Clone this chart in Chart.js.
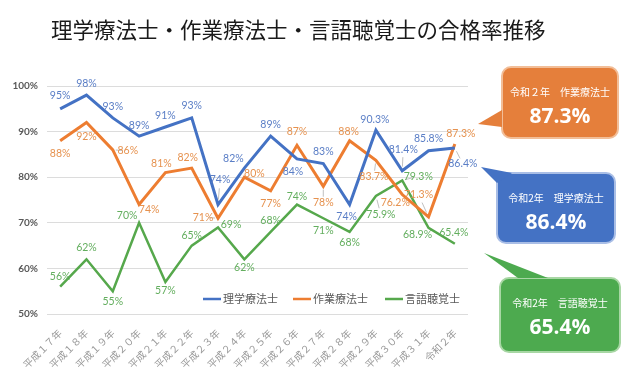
<!DOCTYPE html>
<html>
<head>
<meta charset="utf-8">
<script src="https://cdn.jsdelivr.net/npm/chart.js@4/dist/chart.umd.min.js"></script>
<style>
html,body{margin:0;padding:0;background:#fff;}
#wrap{width:640px;height:382px;position:relative;}
</style>
</head>
<body>
<div id="wrap"><canvas id="c" width="640" height="382"></canvas></div>
<script>
// 合格率推移
const YEARS = ['平成１７年','平成１８年','平成１９年','平成２０年','平成２１年','平成２２年','平成２３年','平成２４年','平成２５年','平成２６年','平成２７年','平成２８年','平成２９年','平成３０年','平成３１年','令和２年'];
const PT = [95, 98, 93, 89, 91, 93, 74, 82, 89, 84, 83, 74, 90.3, 81.4, 85.8, 86.4];
const OT = [88, 92, 86, 74, 81, 82, 71, 80, 77, 87, 78, 88, 83.7, 76.2, 71.3, 87.3];
const ST = [56, 62, 55, 70, 57, 65, 69, 62, 68, 74, 71, 68, 75.9, 79.3, 68.9, 65.4];
const SERIES = ['理学療法士','作業療法士','言語聴覚士'];
const Y_TICKS = [50, 60, 70, 80, 90, 100];

const COL = {pt:'#4472C4', ot:'#ED7D31', st:'#56A84C'};
const LBL = {pt:'#5A7EC6', ot:'#E6924F', st:'#63AE5E'};

// label offsets from each point (px)
const PT_OFF = [[0,-13],[0,-12],[0,-11],[0,-11],[0,-11],[0,-12],[2,-25],[-11,-9],[0,-12],[-4,13],[0,-12],[-3,12],[-1,-11],[1,-21],[0,-12],[8,16]];
const OT_OFF = [[0,13],[0,14],[15,1],[10,5],[-4,-9],[-4,-10],[-15,-1],[10,-4],[0,13],[0,-14],[0,16],[-1,-9],[-2,16],[-7,8],[-10,-22],[6,-10]];
const ST_OFF = [[0,-10],[0,-12],[0,10],[-12,-7],[0,9],[0,-10],[13,-3],[0,8],[0,-11],[0,-8],[0,12],[0,11],[5,19],[16,-4],[-11,7],[-1,-11]];

const JP = '"Noto Sans CJK JP", sans-serif';
const LAT = 'Lato, "Noto Sans", sans-serif';

function fmtPct(v){ return (Number.isInteger(v) ? v : v.toFixed(1)) + '%'; }

const deco = {
  id:'deco',
  afterDatasetsDraw(chart){
    const ctx = chart.ctx;
    // data labels
    const offs = [PT_OFF, OT_OFF, ST_OFF];
    const lc = [LBL.pt, LBL.ot, LBL.st];
    ctx.save();
    ctx.font = '10.5px ' + LAT;
    ctx.textAlign = 'center'; ctx.textBaseline = 'middle';
    chart.data.datasets.forEach((ds, di) => {
      const meta = chart.getDatasetMeta(di);
      meta.data.forEach((pt, i) => {
        const [dx, dy] = offs[di][i];
        const lx = pt.x + dx, ly = pt.y + dy;
        if (Math.hypot(dx, dy) > 15) {
          ctx.strokeStyle = '#b0b0b0'; ctx.lineWidth = 0.8;
          ctx.beginPath();
          ctx.moveTo(pt.x + dx*0.2, pt.y + dy*0.2);
          ctx.lineTo(pt.x + dx*0.65, pt.y + dy*0.65);
          ctx.stroke();
        }
        ctx.fillStyle = lc[di];
        ctx.fillText(fmtPct(ds.data[i]), lx, ly);
      });
    });
    ctx.restore();
  },
  afterDraw(chart){
    const ctx = chart.ctx;
    ctx.save();
    // title
    ctx.fillStyle = '#1a1a1a';
    ctx.font = '21.5px ' + JP;
    ctx.textAlign = 'left'; ctx.textBaseline = 'middle';
    ctx.fillText('理学療法士・作業療法士・言語聴覚士の合格率推移', 51, 30);

    // legend inside plot
    const legX = [203, 293, 385];
    const cols = [COL.pt, COL.ot, COL.st];
    ctx.font = '11px ' + JP;
    SERIES.forEach((s, i) => {
      ctx.strokeStyle = cols[i]; ctx.lineWidth = 2.5;
      ctx.beginPath(); ctx.moveTo(legX[i], 299); ctx.lineTo(legX[i] + 18, 299); ctx.stroke();
      ctx.fillStyle = '#595959';
      ctx.fillText(s, legX[i] + 20, 299);
    });

    // callouts
    const n = YEARS.length - 1;
    const boxes = [
      {c:'#E57F3B', b:'#F2BE98', x:502, y:67, w:116, h:71, tail:[[502,110],[478,124],[502,127]], t1:'令和２年　作業療法士', v:OT[n]},
      {c:'#4472C4', b:'#A9BEE6', x:497, y:173, w:118, h:70, tail:[[497,183],[481,167],[512,173]], t1:'令和2年　理学療法士', v:PT[n]},
      {c:'#4DAA4F', b:'#A8D7A4', x:500, y:278, w:120, h:74, tail:[[518,278],[484,253],[548,278]], t1:'令和2年　言語聴覚士', v:ST[n]},
    ];
    boxes.forEach(bx => {
      ctx.fillStyle = bx.c; ctx.strokeStyle = bx.b; ctx.lineWidth = 2;
      ctx.beginPath();
      ctx.roundRect(bx.x, bx.y, bx.w, bx.h, 9);
      ctx.fill(); ctx.stroke();
      ctx.beginPath();
      ctx.moveTo(bx.tail[0][0], bx.tail[0][1]);
      ctx.lineTo(bx.tail[1][0], bx.tail[1][1]);
      ctx.lineTo(bx.tail[2][0], bx.tail[2][1]);
      ctx.closePath();
      ctx.fill();
      ctx.fillRect(bx.tail[0][0] + 1, Math.min(bx.tail[0][1], bx.tail[2][1]) + 1, 4, 4);
      ctx.fillStyle = '#fff';
      ctx.textAlign = 'center'; ctx.textBaseline = 'middle';
      ctx.font = '10px ' + JP;
      ctx.fillText(bx.t1, bx.x + bx.w/2, bx.y + 25);
      ctx.font = 'bold 21px "Open Sans", ' + LAT;
      ctx.fillText(bx.v.toFixed(1) + '%', bx.x + bx.w/2, bx.y + 50);
    });
    ctx.restore();
  }
};

new Chart(document.getElementById('c'), {
  type:'line',
  data:{
    labels: YEARS,
    datasets:[
      {label:SERIES[0], data:PT, borderColor:COL.pt, backgroundColor:COL.pt, borderWidth:3, pointRadius:0, tension:0},
      {label:SERIES[1], data:OT, borderColor:COL.ot, backgroundColor:COL.ot, borderWidth:3, pointRadius:0, tension:0},
      {label:SERIES[2], data:ST, borderColor:COL.st, backgroundColor:COL.st, borderWidth:2.5, pointRadius:0, tension:0},
    ]
  },
  options:{
    responsive:false, animation:false,
    layout:{padding:{top:86, right:172, left:0, bottom:0}},
    plugins:{legend:{display:false}, tooltip:{enabled:false}, title:{display:false}},
    scales:{
      x:{
        offset:true,
        grid:{display:false}, border:{display:false},
        ticks:{color:'#999999', font:{family:JP, size:10}, maxRotation:45, minRotation:45, autoSkip:false, padding:5},
        afterFit:s => { s.height = 68; }
      },
      y:{
        min:50, max:100,
        afterBuildTicks:s => { s.ticks = Y_TICKS.map(v => ({value:v})); },
        grid:{color:'#dcdcdc', lineWidth:1, drawTicks:false}, border:{display:false},
        ticks:{color:'#595959', font:{family:LAT, size:10, weight:'bold'}, padding:9, callback:v => v + '%'},
        afterFit:s => { s.width = 47; }
      }
    }
  },
  plugins:[deco]
});
</script>
</body>
</html>
